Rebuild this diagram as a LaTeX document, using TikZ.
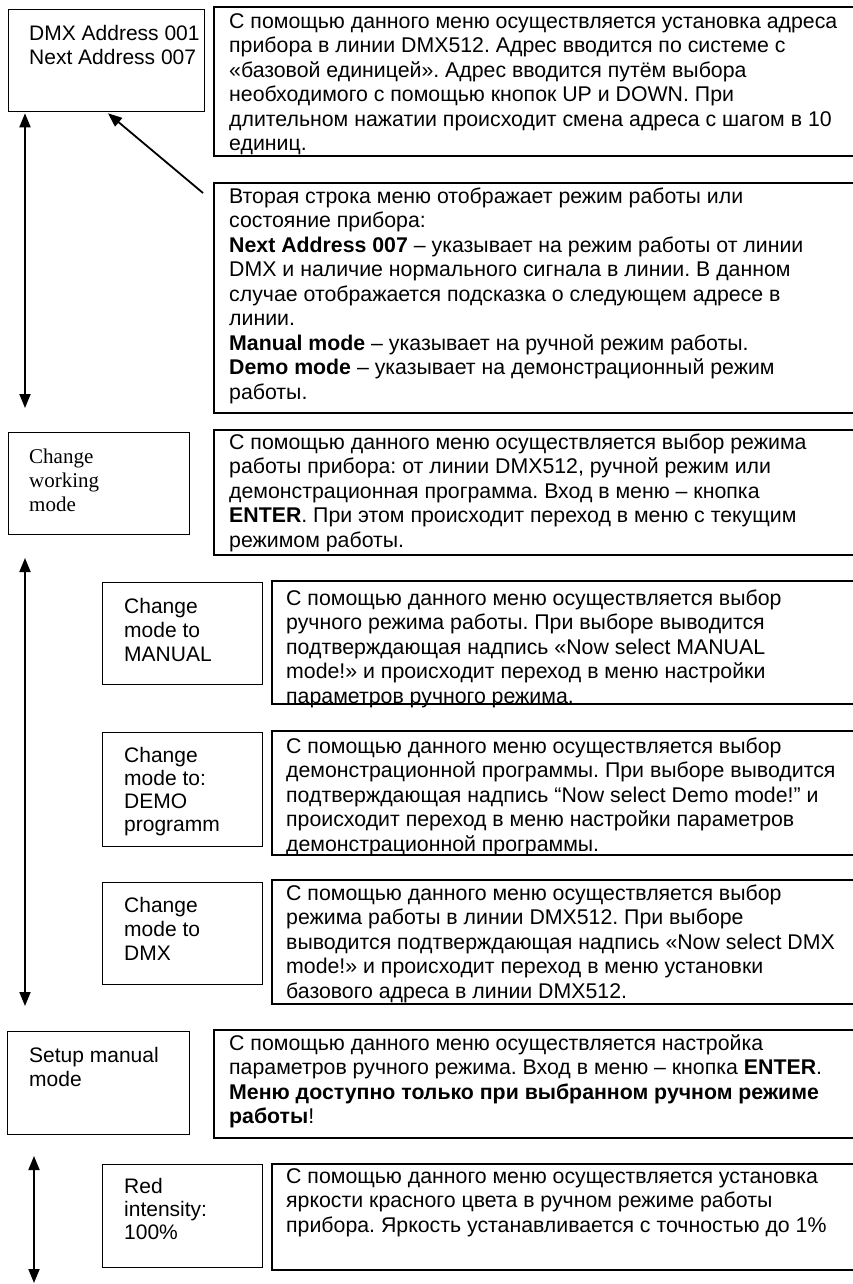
\documentclass[tikz,border=0pt]{standalone}
\usepackage{fontspec}
\setmainfont{Liberation Sans}
\newfontfamily\serifface{Liberation Serif}
\usetikzlibrary{arrows.meta,calc}
\frenchspacing
\tikzset{
  frame/.style={draw, line width=1.3pt, inner sep=0pt, anchor=north west, rectangle},
  descbox/.style={draw, line width=2pt, inner sep=0pt, anchor=north west, rectangle},
  txt/.style={inner sep=0pt, anchor=north west, align=left, font=\fontsize{21.3}{24.5}\selectfont\frenchspacing},
  smalltxt/.style={inner sep=0pt, anchor=north west, align=left, font=\fontsize{21}{24}\selectfont},
  tighttxt/.style={inner sep=0pt, anchor=north west, align=left, font=\fontsize{21}{23}\selectfont},
  serftxt/.style={inner sep=0pt, anchor=north west, align=left, font=\serifface\fontsize{21}{24}\selectfont},
  tip/.tip={Triangle[length=14pt,width=11pt]},
  arr/.style={line width=1.8pt, -tip},
  dbl/.style={line width=1.8pt, tip-tip},
}
\begin{document}
\begin{tikzpicture}[x=1pt,y=-1pt]
\useasboundingbox (0,0) rectangle (853,1284);

% frames (description boxes run past the right edge, as in the reference)
\node[frame, minimum width=196pt, minimum height=102pt] (b1) at (8,9) {};
\node[descbox, minimum width=650pt, minimum height=149pt] (d1) at (213,6) {};
\node[descbox, minimum width=650pt, minimum height=230pt] (d2) at (213,182) {};
\node[frame, minimum width=181pt, minimum height=102pt] (b2) at (8,432) {};
\node[descbox, minimum width=650pt, minimum height=125pt] (d3) at (213,429) {};
\node[frame, minimum width=160pt, minimum height=102pt] (b3) at (102,582) {};
\node[descbox, minimum width=592pt, minimum height=123pt] (d4) at (271,580) {};
\node[frame, minimum width=160pt, minimum height=114pt] (b4) at (102,732) {};
\node[descbox, minimum width=592pt, minimum height=124pt] (d5) at (271,730) {};
\node[frame, minimum width=160pt, minimum height=102pt] (b5) at (102,882) {};
\node[descbox, minimum width=592pt, minimum height=124pt] (d6) at (271,879) {};
\node[frame, minimum width=182pt, minimum height=103pt] (b6) at (7,1031) {};
\node[descbox, minimum width=650pt, minimum height=108pt] (d7) at (213,1029) {};
\node[frame, minimum width=160pt, minimum height=103pt] (b7) at (102,1164) {};
\node[descbox, minimum width=592pt, minimum height=106pt] (d8) at (271,1163) {};

% texts
\node[smalltxt] (t1) at (29,23.2) {\strut DMX Address 001\\Next Address 007};
\node[txt] (td1) at (229,10.85) {\strut С помощью данного меню осуществляется установка адреса\\
прибора в линии DMX512. Адрес вводится по системе с\\
«базовой единицей». Адрес вводится путём выбора\\
необходимого с помощью кнопок UP и DOWN. При\\
длительном нажатии происходит смена адреса с шагом в 10\\
единиц.};
\node[txt] (td2) at (229,185.85) {\strut Вторая строка меню отображает режим работы или\\
состояние прибора:\\
\textbf{Next Address 007} – указывает на режим работы от линии\\
DMX и наличие нормального сигнала в линии. В данном\\
случае отображается подсказка о следующем адресе в\\
линии.\\
\textbf{Manual mode} – указывает на ручной режим работы.\\
\textbf{Demo mode} – указывает на демонстрационный режим\\
работы.};
\node[serftxt] (t2) at (29,446.2) {\strut Change\\working\\mode};
\node[txt] (td3) at (229,431.85) {\strut С помощью данного меню осуществляется выбор режима\\
работы прибора: от линии DMX512, ручной режим или\\
демонстрационная программа. Вход в меню – кнопка\\
\textbf{ENTER}. При этом происходит переход в меню с текущим\\
режимом работы.};
\node[smalltxt] (t3) at (124,596.2) {\strut Change\\mode to\\MANUAL};
\node[txt] (td4) at (286,587.85) {\strut С помощью данного меню осуществляется выбор\\
ручного режима работы. При выборе выводится\\
подтверждающая надпись «Now select MANUAL\\
mode!» и происходит переход в меню настройки\\
параметров ручного режима.};
\node[tighttxt] (t4) at (124,745.9) {\strut Change\\mode to:\\DEMO\\programm};
\node[txt] (td5) at (286,735.85) {\strut С помощью данного меню осуществляется выбор\\
демонстрационной программы. При выборе выводится\\
подтверждающая надпись “Now select Demo mode!” и\\
происходит переход в меню настройки параметров\\
демонстрационной программы.};
\node[smalltxt] (t5) at (124,895.2) {\strut Change\\mode to\\DMX};
\node[txt] (td6) at (286,882.85) {\strut С помощью данного меню осуществляется выбор\\
режима работы в линии DMX512. При выборе\\
выводится подтверждающая надпись «Now select DMX\\
mode!» и происходит переход в меню установки\\
базового адреса в линии DMX512.};
\node[smalltxt] (t6) at (29,1045.2) {\strut Setup manual\\mode};
\node[txt] (td7) at (229,1032.85) {\strut С помощью данного меню осуществляется настройка\\
параметров ручного режима. Вход в меню – кнопка \textbf{ENTER}.\\
\textbf{Меню доступно только при выбранном ручном режиме}\\
\textbf{работы}!};
\node[tighttxt] (t7) at (124,1176.9) {\strut Red\\intensity:\\100\%};
\node[txt] (td8) at (286,1165.85) {\strut С помощью данного меню осуществляется установка\\
яркости красного цвета в ручном режиме работы\\
прибора. Яркость устанавливается с точностью до 1\%};

% connectors
\coordinate (aTop) at ($(b1.south west)+(17,1)$);
\coordinate (aBot) at (25,408);
\draw[dbl] (aBot) -- (aTop);
\coordinate (diagTail) at ($(d2.north west)+(-10,11)$);
\coordinate (diagTip) at ($(b1.south west)+(100,1)$);
\draw[arr] (diagTail) -- (diagTip);
\coordinate (bTop) at (25,558);
\coordinate (bBot) at (25,1006);
\draw[dbl] (bTop) -- (bBot);
\coordinate (cTop) at (34,1156);
\coordinate (cBot) at (34,1283);
\draw[dbl] (cTop) -- (cBot);
\end{tikzpicture}
\end{document}
